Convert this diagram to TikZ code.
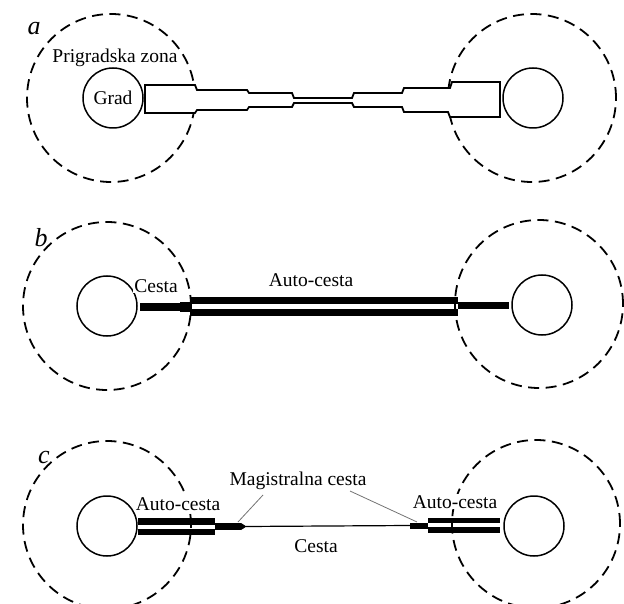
\documentclass[tikz,border=0pt]{standalone}
\usepackage{fontspec}
\setmainfont{Liberation Serif}
\begin{document}
\begin{tikzpicture}[x=1pt,y=-1pt,
  zone/.style={circle,draw,line width=1.8pt,dash pattern=on 11pt off 6.5pt,inner sep=0pt,minimum size=168pt},
  city/.style={circle,draw,line width=1.5pt,inner sep=0pt,minimum size=60pt,font=\fontsize{19.5}{22}\selectfont},
  lbl/.style={inner sep=0pt,anchor=base,font=\fontsize{19.5}{22}\selectfont},
  clearlbl/.style={lbl,fill=white,inner sep=1pt},
  panel/.style={inner sep=0pt,anchor=base,font=\fontsize{26}{28}\selectfont\itshape},
  outline/.style={draw,fill=white,line width=1.8pt,line join=miter},
  strip/.style={fill=black,draw=none},
  leader/.style={draw=black!55,line width=0.8pt}]
\useasboundingbox (0,0) rectangle (624,604);
\clip (0,0) rectangle (624,604);

% ---------- a: road narrowing towards the middle ----------
\node[zone] (za1) at (111,98) {};
\node[zone] (za2) at (532,98) {};
\node[city] (ga1) at (113,98) {Grad};
\node[city] (ga2) at (533,98) {};
\path[outline] (145,85) -- (195,85) -- (197,90) -- (247,90) -- (249,93) -- (292,93)
  -- (294,98) -- (352,98) -- (354,93) -- (402,93) -- (404,88) -- (450,88)
  -- (452,82) -- (500,82) -- (500,117) -- (450,117) -- (448,112) -- (404,112)
  -- (402,107) -- (354,107) -- (352,103) -- (294,103) -- (292,107) -- (249,107)
  -- (247,110) -- (197,110) -- (195,113) -- (145,113) -- cycle;
\node[panel] (pa) at (34,35) {a};
\node[lbl] (zona) at (115,63) {Prigradska zona};

% ---------- b: motorway between the suburban zones ----------
\node[zone] (zb1) at (107,306) {};
\node[zone] (zb2) at (539,304) {};
\node[city] (gb1) at (107,306) {};
\node[city] (gb2) at (542,305) {};
\fill[strip] (140,303) rectangle (190,311);
\fill[strip] (180,302) rectangle (190,312);
\fill[strip] (190,297) rectangle (458,304);
\fill[strip] (190,309) rectangle (458,316);
\fill[strip] (458,302) rectangle (509,309);
\node[panel] (pb) at (41,247) {b};
\node[clearlbl] (cb) at (156,292) {Cesta};
\node[lbl] (ab) at (311,287) {Auto-cesta};

% ---------- c: motorway inside the zones, road between ----------
\fill[strip] (138,518) rectangle (215,524.5);
\fill[strip] (138,529) rectangle (215,535);
\fill[strip] (215,523) rectangle (241,530);
\fill[strip] (241,523) -- (245,525.5) -- (245,527.5) -- (241,530) -- cycle;
\draw[line width=1.2pt] (245,526.5) -- (410,525.5);
\fill[strip] (410,522.5) rectangle (428,529);
\fill[strip] (428,518) rectangle (500,523);
\fill[strip] (428,527) rectangle (500,533);
\node[zone] (zc1) at (107,525) {};
\node[zone] (zc2) at (536,524) {};
\node[city] (gc1) at (107,526) {};
\node[city] (gc2) at (534,526) {};
\node[panel] (pc) at (44,463) {c};
\node[clearlbl] (ac1) at (178,510) {Auto-cesta};
\node[clearlbl] (ac2) at (455,508) {Auto-cesta};
\node[lbl] (mag) at (298,485) {Magistralna cesta};
\node[lbl] (cc) at (316,552) {Cesta};
\coordinate (m1) at (238,522);
\coordinate (m2) at (417,522);
\path[leader] (263,495) -- (m1);
\path[leader] (350,491) -- (m2);
\end{tikzpicture}
\end{document}
